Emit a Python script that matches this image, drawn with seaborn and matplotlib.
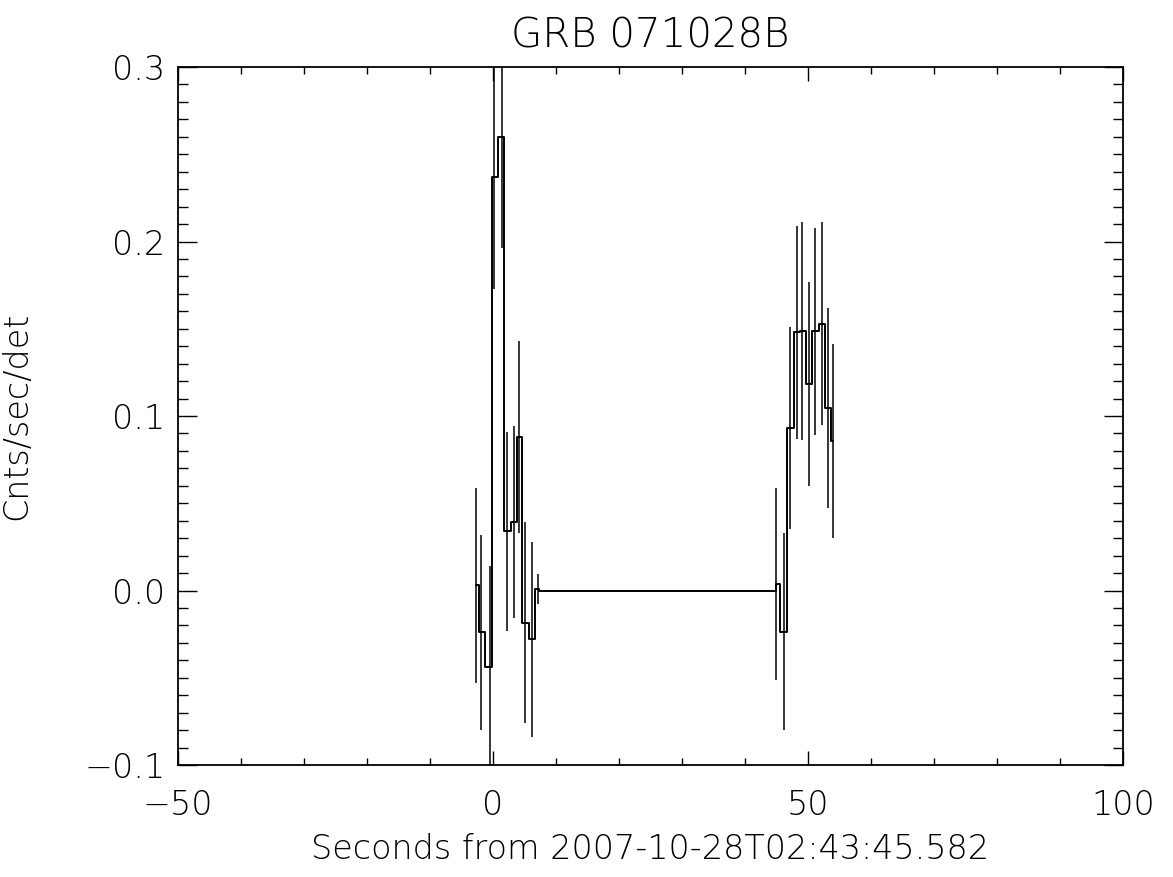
import matplotlib
matplotlib.use('Agg')
import matplotlib.pyplot as plt
from matplotlib.ticker import MultipleLocator, FuncFormatter
import seaborn as sns

# dados: centro do bin (s), taxa e erro
tempo = [-2.7, -1.85, -0.55, 0.16, 1.38, 2.27, 3.33, 4.18, 5.08, 6.24, 7.1, 7.6,
         44.8, 45.0, 46.2, 47.1, 48.3, 49.1, 50.2, 51.1, 52.3, 53.2, 54.0]
taxa = [0.003, -0.024, -0.044, 0.237, 0.260, 0.034, 0.039, 0.088, -0.0185, -0.028, 0.001, 0.0,
        0.0, 0.0038, -0.0235, 0.093, 0.148, 0.1485, 0.1185, 0.1485, 0.153, 0.1045, 0.0855]
erro = [0.056, 0.056, 0.058, 0.064, 0.064, 0.057, 0.055, 0.055, 0.0575, 0.056, 0.0085, 0.0,
        0.0, 0.055, 0.0565, 0.058, 0.061, 0.0625, 0.0585, 0.0595, 0.058, 0.0575, 0.0555]

titulo = "GRB 071028B"
rotulo_x = "Seconds from 2007-10-28T02:43:45.582"
rotulo_y = "Cnts/sec/det"

sns.set_style("white")
plt.rcParams['font.family'] = ['DejaVu Sans']
plt.rcParams['font.weight'] = 'light'
plt.rcParams['axes.titleweight'] = 'light'
plt.rcParams['axes.labelweight'] = 'light'
plt.rcParams['xtick.direction'] = 'in'
plt.rcParams['ytick.direction'] = 'in'

fig = plt.figure(figsize=(11.73, 8.77), dpi=100)
ax = fig.add_axes([0.1517, 0.1277, 0.8057, 0.7959])

# curva em degraus (modo histograma do IDL)
sns.lineplot(x=tempo, y=taxa, drawstyle='steps-mid', color='black',
             linewidth=1.4, estimator=None, sort=False, ax=ax)
# barras de erro verticais
inf = [t - e for t, e in zip(taxa, erro)]
sup = [t + e for t, e in zip(taxa, erro)]
ax.vlines(tempo, inf, sup, color='black', linewidth=1.1)

ax.set_xlim(-50, 100)
ax.set_ylim(-0.1, 0.3)
ax.xaxis.set_major_locator(MultipleLocator(50))
ax.xaxis.set_minor_locator(MultipleLocator(10))
ax.yaxis.set_major_locator(MultipleLocator(0.1))
ax.yaxis.set_minor_locator(MultipleLocator(0.01))

def fmt_y(v, pos):
    txt = f"{v:.1f}"
    if txt == "-0.0":
        txt = "0.0"
    return txt.replace('-', '\u2212')

ax.yaxis.set_major_formatter(FuncFormatter(fmt_y))

ax.tick_params(axis='both', which='both', top=True, right=True, bottom=True, left=True,
               color='black', labelsize=24, labelcolor='black')
ax.tick_params(axis='x', which='major', length=10, width=1.0, pad=17)
ax.tick_params(axis='x', which='minor', length=5, width=1.0)
ax.tick_params(axis='y', which='major', length=13.5, width=1.0, pad=9)
ax.tick_params(axis='y', which='minor', length=7, width=1.0)
for s in ax.spines.values():
    s.set_color('black')
    s.set_linewidth(1.3)

ax.set_title(titulo, fontsize=29, pad=14, color='black', fontweight='light')
ax.set_xlabel(rotulo_x, fontsize=24, labelpad=8, color='black', fontweight='light')
ax.set_ylabel(rotulo_y, fontsize=24, color='black', fontweight='light')
ax.yaxis.set_label_coords(-0.153, 0.5)

plt.savefig('out.png', dpi=100)
plt.close()
